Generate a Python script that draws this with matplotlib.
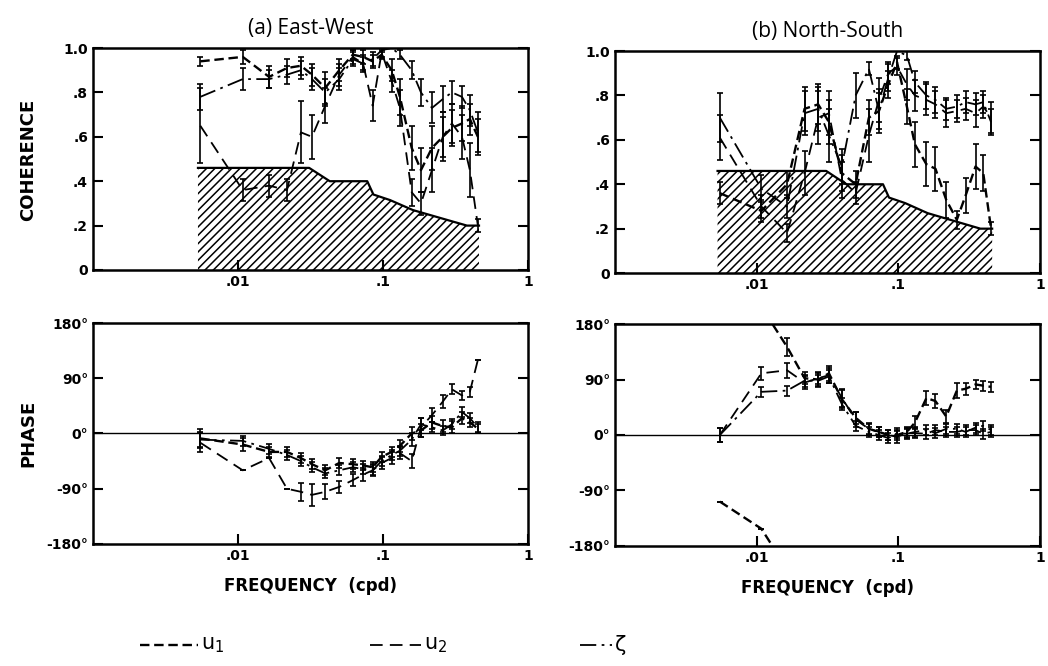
import numpy as np
import matplotlib
matplotlib.use("Agg")
import matplotlib.pyplot as plt
from matplotlib.lines import Line2D

plt.rcParams['font.family'] = ['DejaVu Sans Condensed', 'Liberation Sans Narrow', 'DejaVu Sans']
plt.rcParams['hatch.linewidth'] = 1.1

# frequency grid (cpd), shared by every curve
freq = [0.0055, 0.0108, 0.0164, 0.0218, 0.0272, 0.0324, 0.040, 0.050, 0.062, 0.073, 0.085,
        0.098, 0.115, 0.131, 0.158, 0.183, 0.218, 0.259, 0.299, 0.351, 0.398, 0.452]

# 95% significance level (hatched)
sig_f = [0.0053, 0.031, 0.043, 0.078, 0.086, 0.112, 0.161, 0.247, 0.38, 0.46]
sig_c = [0.46, 0.46, 0.40, 0.40, 0.34, 0.315, 0.27, 0.235, 0.20, 0.20]

# (a) East-West coherence
coh_a_u1 = [0.94, 0.96, 0.87, 0.91, 0.92, 0.88, 0.82, 0.90, 0.97, 0.96, 0.94, 0.97, 0.90, 0.78, 0.55, 0.45, 0.55, 0.60, 0.64, 0.66, 0.68, 0.60]
err_a_u1 = [0.02, 0.03, 0.05, 0.04, 0.04, 0.05, 0.07, 0.05, 0.02, 0.03, 0.03, 0.02, 0.05, 0.08, 0.10, 0.10, 0.10, 0.09, 0.08, 0.08, 0.07, 0.08]
coh_a_u2 = [0.65, 0.36, 0.38, 0.36, 0.62, 0.60, 0.74, 0.88, 0.96, 0.93, 0.74, 0.98, 0.85, 0.73, 0.35, 0.30, 0.45, 0.60, 0.66, 0.60, 0.45, 0.20]
err_a_u2 = [0.17, 0.05, 0.05, 0.05, 0.14, 0.10, 0.08, 0.05, 0.03, 0.04, 0.07, 0.02, 0.05, 0.08, 0.06, 0.05, 0.10, 0.11, 0.09, 0.10, 0.12, 0.03]
coh_a_z = [0.78, 0.86, 0.86, 0.88, 0.90, 0.86, 0.80, 0.86, 0.95, 0.93, 0.95, 0.99, 1.00, 0.97, 0.90, 0.80, 0.73, 0.77, 0.80, 0.78, 0.72, 0.62]
err_a_z = [0.06, 0.05, 0.04, 0.04, 0.04, 0.05, 0.06, 0.05, 0.03, 0.03, 0.03, 0.01, 0.00, 0.02, 0.04, 0.06, 0.07, 0.06, 0.05, 0.05, 0.07, 0.09]

# (b) North-South coherence
coh_b_u1 = [0.36, 0.28, 0.40, 0.74, 0.76, 0.68, 0.45, 0.40, 0.70, 0.73, 0.85, 0.95, 0.75, 0.58, 0.49, 0.47, 0.33, 0.24, 0.35, 0.48, 0.45, 0.20]
err_b_u1 = [0.05, 0.05, 0.06, 0.10, 0.09, 0.10, 0.08, 0.06, 0.08, 0.08, 0.06, 0.03, 0.08, 0.10, 0.10, 0.10, 0.08, 0.04, 0.08, 0.10, 0.08, 0.03]
coh_b_u2 = [0.61, 0.30, 0.18, 0.45, 0.70, 0.72, 0.42, 0.36, 0.62, 0.78, 0.90, 0.93, 0.85, 0.80, 0.78, 0.76, 0.72, 0.73, 0.74, 0.72, 0.75, 0.70]
err_b_u2 = [0.10, 0.05, 0.04, 0.10, 0.12, 0.10, 0.08, 0.05, 0.12, 0.10, 0.05, 0.04, 0.07, 0.07, 0.07, 0.06, 0.06, 0.05, 0.05, 0.06, 0.05, 0.07]
coh_b_z = [0.70, 0.38, 0.30, 0.72, 0.74, 0.62, 0.48, 0.80, 0.92, 0.73, 0.88, 1.00, 0.98, 0.86, 0.80, 0.78, 0.74, 0.75, 0.77, 0.76, 0.77, 0.68]
err_b_z = [0.11, 0.06, 0.05, 0.10, 0.10, 0.12, 0.08, 0.10, 0.03, 0.10, 0.06, 0.00, 0.02, 0.05, 0.06, 0.06, 0.05, 0.05, 0.05, 0.05, 0.05, 0.06]

# (a) East-West phase (deg)
ph_a_u1 = [-8, -18, -30, -30, -40, -50, -60, -48, -50, -52, -55, -38, -30, -20, 0, 5, 18, 12, 10, 25, 18, 8]
eph_a_u1 = [15, 10, 8, 8, 8, 8, 8, 8, 8, 8, 8, 8, 8, 10, 10, 10, 10, 10, 10, 10, 8, 8]
ph_a_u2 = [-15, -60, -40, -90, -95, -100, -95, -87, -76, -67, -60, -48, -40, -32, -45, 10, 30, 52, 72, 62, 68, 120]
eph_a_u2 = [15, 0, 0, 0, 15, 18, 12, 10, 10, 10, 10, 10, 10, 10, 12, 15, 12, 10, 8, 8, 8, 0]
ph_a_z = [-10, -12, -25, -35, -45, -55, -65, -60, -55, -58, -60, -45, -35, -28, -10, 15, 10, 5, 15, 35, 25, 10]
eph_a_z = [12, 8, 8, 8, 8, 8, 8, 8, 8, 8, 8, 8, 8, 8, 10, 10, 8, 8, 8, 8, 8, 8]

# (b) North-South phase (deg), u1 wraps through +-180
ph_b_u1 = [-108, -152, 143, 92, 90, 100, 58, 28, 10, 5, 0, 0, 5, 20, 60, 55, 30, 72, 75, 82, 80, 78]
eph_b_u1 = [0, 0, 15, 10, 10, 12, 15, 10, 10, 8, 8, 8, 8, 10, 12, 12, 10, 12, 10, 8, 8, 8]
ph_b_u2 = [0, 100, 105, 85, 92, 97, 60, 25, 10, 5, 0, -3, 3, 3, 2, 8, 5, 5, 8, 8, 2, 5]
eph_b_u2 = [12, 10, 12, 10, 10, 12, 15, 12, 8, 8, 8, 10, 8, 8, 8, 8, 8, 8, 8, 8, 8, 8]
ph_b_z = [0, 70, 72, 88, 88, 95, 50, 15, 5, 0, -5, 3, 2, 5, 8, 3, 10, 10, 5, 12, 15, 8]
eph_b_z = [12, 8, 8, 10, 10, 10, 10, 8, 8, 8, 8, 8, 8, 8, 8, 8, 8, 8, 8, 8, 8, 8]

styles = {
    'u1': dict(ls=(0, (4, 2)), lw=1.7),
    'u2': dict(ls=(0, (7, 4)), lw=1.3),
    'z': dict(ls=(0, (9, 3, 1.5, 3)), lw=1.3),
}


def curve(ax, y, err, key, wrap=False):
    y = np.asarray(y, float)
    if wrap:
        y = np.unwrap(y, period=360)
        shifts = [-360, 0, 360]
    else:
        shifts = [0]
    for s in shifts:
        ax.plot(freq, y + s, color='black', **styles[key])
        ax.errorbar(freq, y + s, yerr=err, fmt='none', ecolor='black',
                    elinewidth=1.2, capsize=2, capthick=1.2)


def frame(ax):
    ax.set_xscale('log')
    ax.set_xlim(0.001, 1)
    ax.set_xticks([0.01, 0.1, 1])
    ax.set_xticklabels(['.01', '.1', '1'])
    ax.xaxis.set_minor_locator(matplotlib.ticker.NullLocator())
    ax.tick_params(direction='in', length=7, width=1.5, labelsize=10, right=True)
    for lab in ax.get_xticklabels() + ax.get_yticklabels():
        lab.set_fontweight('bold')
    for sp in ax.spines.values():
        sp.set_linewidth(1.8)


def sig(ax):
    ax.fill_between(sig_f, 0, sig_c, facecolor='none', edgecolor='black',
                    hatch='////', linewidth=0)
    ax.plot(sig_f, sig_c, color='black', lw=1.6)


fig = plt.figure(figsize=(10.48, 6.66), dpi=100)
ax_ca = fig.add_axes([0.0887, 0.5946, 0.415, 0.3333])
ax_pa = fig.add_axes([0.0887, 0.1832, 0.415, 0.3318])
ax_cb = fig.add_axes([0.5868, 0.5900, 0.4055, 0.3333])
ax_pb = fig.add_axes([0.5868, 0.1802, 0.4055, 0.3333])

for ax in (ax_ca, ax_cb):
    ax.set_ylim(0, 1)
    ax.set_yticks([0, 0.2, 0.4, 0.6, 0.8, 1.0])
    ax.set_yticklabels(['0', '.2', '.4', '.6', '.8', '1.0'])
    frame(ax)
    sig(ax)

for ax in (ax_pa, ax_pb):
    ax.set_ylim(-180, 180)
    ax.set_yticks([-180, -90, 0, 90, 180])
    ax.set_yticklabels(['-180°', '-90°', '0°', '90°', '180°'])
    frame(ax)
    ax.axhline(0, color='black', lw=1.0)
    ax.set_xlabel('FREQUENCY  (cpd)', fontsize=12, labelpad=10, fontweight='bold')

curve(ax_ca, coh_a_u1, err_a_u1, 'u1')
curve(ax_ca, coh_a_u2, err_a_u2, 'u2')
curve(ax_ca, coh_a_z, err_a_z, 'z')
curve(ax_cb, coh_b_u1, err_b_u1, 'u1')
curve(ax_cb, coh_b_u2, err_b_u2, 'u2')
curve(ax_cb, coh_b_z, err_b_z, 'z')
curve(ax_pa, ph_a_u1, eph_a_u1, 'u1')
curve(ax_pa, ph_a_u2, eph_a_u2, 'u2')
curve(ax_pa, ph_a_z, eph_a_z, 'z')
curve(ax_pb, ph_b_u1, eph_b_u1, 'u1', wrap=True)
curve(ax_pb, ph_b_u2, eph_b_u2, 'u2')
curve(ax_pb, ph_b_z, eph_b_z, 'z')

ax_ca.set_title('(a) East-West', fontsize=15, pad=10, family=['Open Sans', 'DejaVu Sans'])
ax_cb.set_title('(b) North-South', fontsize=15, pad=10, family=['Open Sans', 'DejaVu Sans'])
fig.text(0.027, 0.76, 'COHERENCE', rotation=90, ha='center', va='center', fontsize=13, fontweight='bold')
fig.text(0.027, 0.35, 'PHASE', rotation=90, ha='center', va='center', fontsize=13, fontweight='bold')

# legend along the bottom
leg = [(0.134, 0.189, 'u$_1$', 'u1'), (0.353, 0.402, 'u$_2$', 'u2'), (0.553, 0.584, 'ζ', 'z')]
for x0, x1, lab, key in leg:
    fig.add_artist(Line2D([x0, x1], [0.032, 0.032], color='black', **styles[key]))
    fig.text(x1 + 0.003, 0.032, lab, fontsize=15, va='center', ha='left')

fig.savefig('out.png', dpi=100)
